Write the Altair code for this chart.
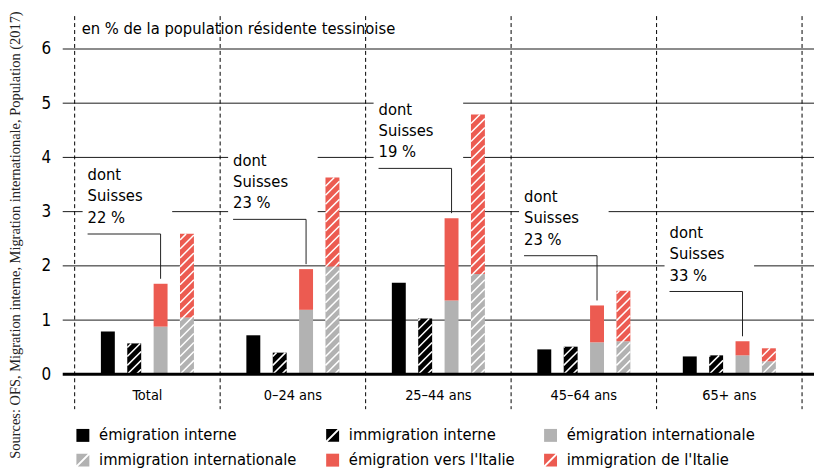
import altair as alt
import pandas as pd
import numpy as np

# ---------------- data ----------------
categories = ["Total", "0–24 ans", "25–44 ans", "45–64 ans", "65+ ans"]
emigration_interne = [0.79, 0.72, 1.69, 0.46, 0.33]
immigration_interne = [0.57, 0.40, 1.03, 0.51, 0.35]
emigration_internationale = [0.88, 1.19, 1.36, 0.59, 0.35]
emigration_italie = [0.79, 0.75, 1.52, 0.68, 0.26]
immigration_internationale = [1.05, 1.99, 1.85, 0.61, 0.24]
immigration_italie = [1.54, 1.64, 2.94, 0.93, 0.24]
dont_suisses = [22, 23, 19, 23, 33]
y_ticks = [0, 1, 2, 3, 4, 5, 6]
series = ["émigration interne", "immigration interne", "émigration internationale",
          "immigration internationale", "émigration vers l'Italie", "immigration de l'Italie"]
title_text = "en % de la population résidente tessinoise"
source_text = "Sources: OFS, Migration interne, Migration internationale, Population (2017)"

# ---------------- style / layout ----------------
FONT = "'DejaVu Sans Condensed', 'Liberation Sans Narrow', 'Roboto Condensed', Roboto, sans-serif"
SERIF = "'Liberation Serif', 'DejaVu Serif', serif"
FS = 16.5
BLACK, GRAY, RED = "#000000", "#b2b2b2", "#ec5b51"
GP = 146.2                    # px per group
X0, X1 = -12 / GP, 5 + 12 / GP
W = (X1 - X0) * GP
H = 327
KX, KY = GP, H / 6.0
SLOT, HALF = 26.5 / KX, 7.0 / KX
HATCH_S = 9.0

X_SCALE = alt.Scale(domain=[X0, X1], nice=False, zero=False)
Y_SCALE = alt.Scale(domain=[0, 6], nice=False, zero=False)
Y_AXIS = alt.Axis(values=y_ticks, title=None, grid=False, domain=False, ticks=False,
                  tickSize=0, labelFont=FONT, labelFontSize=17, labelColor="black",
                  labelPadding=12)

def xc(gi, slot):
    return gi + 0.5 + (slot - 1.5) * SLOT

# bars
bar_rows = []
for gi in range(len(categories)):
    segs = [
        (0, 0, emigration_interne[gi], BLACK, False),
        (1, 0, immigration_interne[gi], BLACK, True),
        (2, 0, emigration_internationale[gi], GRAY, False),
        (2, emigration_internationale[gi], emigration_internationale[gi] + emigration_italie[gi], RED, False),
        (3, 0, immigration_internationale[gi], GRAY, True),
        (3, immigration_internationale[gi], immigration_internationale[gi] + immigration_italie[gi], RED, True),
    ]
    for slot, y0, y1, col, hatch in segs:
        c = xc(gi, slot)
        bar_rows.append(dict(x=c - HALF, x2=c + HALF, y=y0, y2=y1, color=col, hatch=hatch))
bars_df = pd.DataFrame(bar_rows)

# hatch lines derived from hatched bars
hatch_rows = []
for r in bar_rows:
    if not r["hatch"]:
        continue
    w = (r["x2"] - r["x"]) * KX
    v0, v1 = r["y"] * KY, r["y2"] * KY
    k0 = int(np.floor((v0 - w) / HATCH_S)) - 1
    k1 = int(np.ceil(v1 / HATCH_S)) + 1
    for k in range(k0, k1 + 1):
        cc = k * HATCH_S
        umin = max(0.0, v0 - cc)
        umax = min(w, v1 - cc)
        if umax - umin > 0.4:
            hatch_rows.append(dict(x=r["x"] + umin / KX, x2=r["x"] + umax / KX,
                                   y=(umin + cc) / KY, y2=(umax + cc) / KY))
hatch_df = pd.DataFrame(hatch_rows)

# annotations
box_rows, lead_rows, txt_rows = [], [], []
for gi, p in enumerate(dont_suisses):
    top = emigration_internationale[gi] + emigration_italie[gi]
    ly = top + 50 / KY
    xl = gi + 13 / KX
    xb = xc(gi, 2)
    box_rows.append(dict(x=gi + 8 / KX, x2=gi + 98 / KX, y=ly + 4 / KY, y2=ly + 71 / KY))
    lead_rows.append(dict(x=xl, x2=xb, y=ly, y2=ly))
    lead_rows.append(dict(x=xb, x2=xb, y=ly, y2=top + 5 / KY))
    for t, off in [("dont", 59), ("Suisses", 38), (f"{p} %", 16)]:
        txt_rows.append(dict(x=xl, y=ly + off / KY, t=t))
box_df = pd.DataFrame(box_rows)
lead_df = pd.DataFrame(lead_rows)
txt_df = pd.DataFrame(txt_rows)

grid_df = pd.DataFrame({"v": [1, 2, 3, 4, 5, 6],
                        "c": ["#1a1a1a"] * 5 + ["#8c8c8c"],
                        "w": [1, 1, 1, 1, 1, 2]})
sep_df = pd.DataFrame({"gi": list(range(len(categories) + 1))})
cat_df = pd.DataFrame({"xc": [i + 0.5 for i in range(len(categories))], "t": categories})

# ---------------- layers ----------------
grid = alt.Chart(grid_df).mark_rule().encode(
    y=alt.Y("v:Q", scale=Y_SCALE, axis=Y_AXIS),
    color=alt.Color("c:N", scale=None),
    strokeWidth=alt.StrokeWidth("w:Q", scale=None),
)

boxes = alt.Chart(box_df).mark_rect(fill="white", stroke=None).encode(
    x=alt.X("x:Q", scale=X_SCALE, axis=None), x2="x2:Q",
    y=alt.Y("y:Q", scale=Y_SCALE, axis=Y_AXIS), y2="y2:Q",
)

bars = alt.Chart(bars_df).mark_rect(strokeWidth=0).encode(
    x=alt.X("x:Q", scale=X_SCALE, axis=None), x2="x2:Q",
    y=alt.Y("y:Q", scale=Y_SCALE, axis=Y_AXIS), y2="y2:Q",
    fill=alt.Fill("color:N", scale=None),
)

hatch = alt.Chart(hatch_df).mark_rule(color="white", strokeWidth=1.5).encode(
    x=alt.X("x:Q", scale=X_SCALE, axis=None), x2="x2:Q",
    y=alt.Y("y:Q", scale=Y_SCALE, axis=Y_AXIS), y2="y2:Q",
)

zero = alt.Chart(pd.DataFrame({"v": [0]})).mark_rule(color="black", strokeWidth=3).encode(
    y=alt.Y("v:Q", scale=Y_SCALE, axis=Y_AXIS),
)

leaders = alt.Chart(lead_df).mark_rule(color="#222222", strokeWidth=1).encode(
    x=alt.X("x:Q", scale=X_SCALE, axis=None), x2="x2:Q",
    y=alt.Y("y:Q", scale=Y_SCALE, axis=Y_AXIS), y2="y2:Q",
)

notes = alt.Chart(txt_df).mark_text(align="left", baseline="middle", font=FONT,
                                    fontSize=FS, color="black").encode(
    x=alt.X("x:Q", scale=X_SCALE, axis=None),
    y=alt.Y("y:Q", scale=Y_SCALE, axis=Y_AXIS),
    text="t:N",
)

seps = alt.Chart(sep_df).mark_rule(color="black", strokeWidth=1, strokeDash=[4, 3]).encode(
    x=alt.X("gi:Q", scale=X_SCALE, axis=None),
    y=alt.value(-33), y2=alt.value(H + 35),
)

cats = alt.Chart(cat_df).mark_text(align="center", baseline="middle", font=FONT,
                                   fontSize=14.5, color="black").encode(
    x=alt.X("xc:Q", scale=X_SCALE, axis=None),
    y=alt.value(H + 22),
    text="t:N",
)

title = alt.Chart(pd.DataFrame({"t": [title_text]})).mark_text(
    align="left", baseline="middle", font=FONT, fontSize=FS, color="black").encode(
    x=alt.value(19), y=alt.value(-20), text="t:N")

source = alt.Chart(pd.DataFrame({"t": [source_text]})).mark_text(
    align="center", baseline="middle", font=SERIF, fontSize=14.5, color="#222222",
    angle=270).encode(x=alt.value(-47), y=alt.value(187), text="t:N")

SQUARE = "M-1,-1H1V1H-1Z"
HATCHED = "M-1,-1L0.78,-1L-1,0.78Z M1,1L-0.78,1L1,-0.78Z"
leg = alt.Legend(orient="none", legendX=12, legendY=380, direction="horizontal", columns=3,
                 title=None, symbolSize=169, symbolStrokeWidth=0, labelFont=FONT,
                 labelFontSize=FS, labelColor="black", labelOffset=8, rowPadding=8,
                 columnPadding=27, padding=0, labelLimit=400)
legend_layer = alt.Chart(pd.DataFrame({"s": series})).transform_filter("false").mark_point(
    filled=True, opacity=1).encode(
    fill=alt.Fill("s:N", scale=alt.Scale(domain=series, range=[BLACK, BLACK, GRAY, GRAY, RED, RED]),
                  legend=leg),
    shape=alt.Shape("s:N", scale=alt.Scale(domain=series,
                                           range=[SQUARE, HATCHED, SQUARE, HATCHED, SQUARE, HATCHED]),
                    legend=leg),
)

chart = alt.layer(grid, boxes, bars, hatch, zero, leaders, notes, seps, cats, title, source,
                  legend_layer).properties(
    width=W, height=H,
    padding={"left": 55, "top": 40, "right": 0, "bottom": 96},
    autosize=alt.AutoSizeParams(type="none"),
).configure_view(stroke=None)

chart.save("out.html", embed_options={"renderer": "svg", "actions": False})
